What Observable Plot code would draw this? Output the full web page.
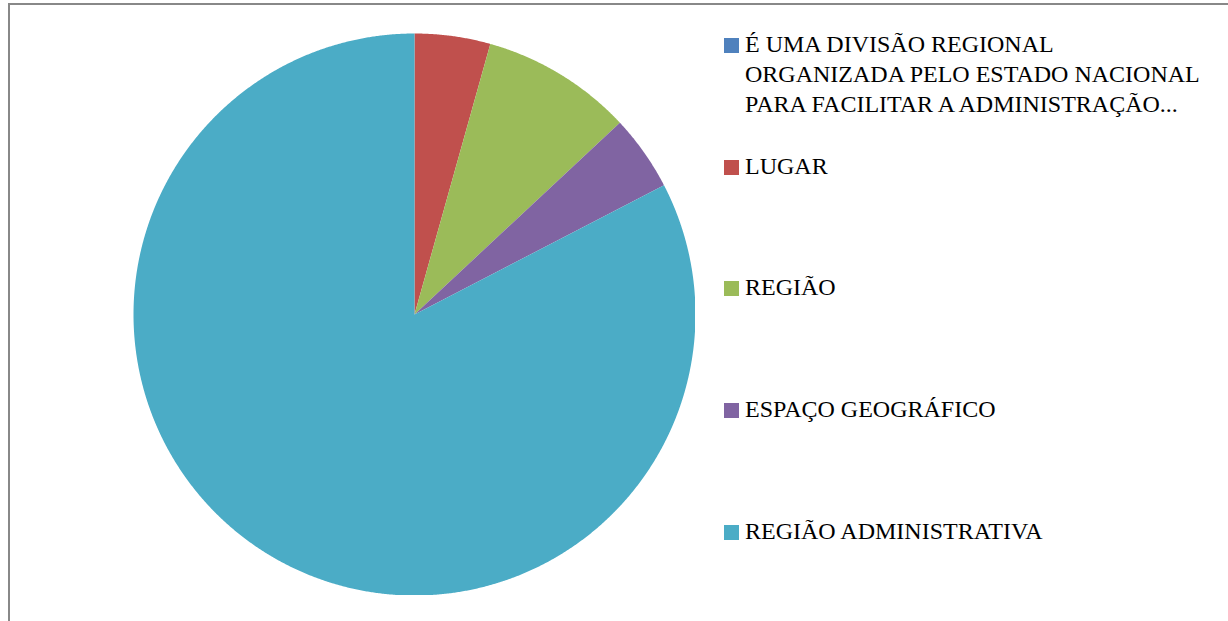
<!DOCTYPE html>
<html>
<head>
<meta charset="utf-8">
<script src="https://cdn.jsdelivr.net/npm/d3@7"></script>
<script src="https://cdn.jsdelivr.net/npm/@observablehq/plot@0.6"></script>
<style>
  html, body { margin: 0; padding: 0; background: #fff; width: 1228px; height: 621px; overflow: hidden; }
  #frame { position: absolute; left: 8px; top: 3px; width: 1240px; height: 640px; border: 2px solid #888; box-sizing: border-box; }
  #pie { position: absolute; left: 133px; top: 33px; }
  #legend { position: absolute; left: 724px; top: 0; font-family: "Liberation Serif", serif; font-size: 24px; color: #000; }
  .item { position: absolute; left: 0; white-space: nowrap; }
  .sw { position: absolute; left: 0; width: 15px; height: 15px; }
  .txt { position: absolute; left: 21px; line-height: 30px; }
</style>
</head>
<body>
<div id="frame"></div>
<div id="pie"></div>
<div id="legend"></div>
<script>
const categories = [
  "É UMA DIVISÃO REGIONAL ORGANIZADA PELO ESTADO NACIONAL PARA FACILITAR A ADMINISTRAÇÃO...",
  "LUGAR",
  "REGIÃO",
  "ESPAÇO GEOGRÁFICO",
  "REGIÃO ADMINISTRATIVA"
];
const legendLines = [
  ["É UMA DIVISÃO REGIONAL", "ORGANIZADA PELO ESTADO NACIONAL", "PARA FACILITAR A ADMINISTRAÇÃO..."],
  ["LUGAR"],
  ["REGIÃO"],
  ["ESPAÇO GEOGRÁFICO"],
  ["REGIÃO ADMINISTRATIVA"]
];
const values = [0, 1, 2, 1, 19];
const colors = ["#4F81BD", "#C0504D", "#9BBB59", "#8064A2", "#4BACC6"];

// Build slice polygons (unit circle), clockwise from 12 o'clock
const total = d3.sum(values);
const pts = [];
let start = 0;
categories.forEach((c, i) => {
  const sweep = values[i] / total * 2 * Math.PI;
  if (sweep > 0) {
    pts.push({cat: c, x: 0, y: 0});
    const n = Math.max(2, Math.ceil(sweep / (Math.PI / 720)));
    for (let k = 0; k <= n; k++) {
      const a = start + sweep * k / n;
      pts.push({cat: c, x: Math.sin(a), y: Math.cos(a)});
    }
    pts.push({cat: c, x: 0, y: 0});
  }
  start += sweep;
});

const R = 281;
const chart = Plot.plot({
  width: 2 * R,
  height: 2 * R,
  margin: 0,
  x: {domain: [-1, 1], axis: null},
  y: {domain: [-1, 1], axis: null},
  color: {type: "ordinal", domain: categories, range: colors},
  marks: [
    Plot.line(pts, {x: "x", y: "y", z: "cat", fill: "cat", stroke: "none", curve: "linear"})
  ]
});
document.getElementById("pie").appendChild(chart);

// Legend (HTML, to the right)
const legend = document.getElementById("legend");
const baselines0 = 53, step = 121.7;
legendLines.forEach((lines, i) => {
  const base = Math.round(baselines0 + step * i);
  const item = document.createElement("div");
  item.className = "item";
  const sw = document.createElement("div");
  sw.className = "sw";
  sw.style.background = colors[i];
  sw.style.top = (base - 15) + "px";
  const t = document.createElement("div");
  t.className = "txt";
  t.style.top = (base - 24) + "px";
  t.innerHTML = lines.join("<br>");
  item.appendChild(sw);
  item.appendChild(t);
  legend.appendChild(item);
});
</script>
</body>
</html>
